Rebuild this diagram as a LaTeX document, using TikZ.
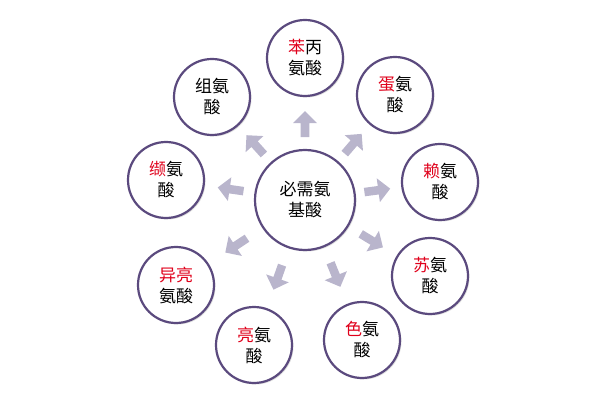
\documentclass[tikz,border=0pt]{standalone}
\usepackage{fontspec}
\newfontfamily\cjk{Noto Sans CJK SC}
\usetikzlibrary{shapes.arrows,shadows,calc}
\definecolor{ring}{HTML}{5B4A7E}
\definecolor{arr}{HTML}{B9B5CC}
\definecolor{rd}{HTML}{E0001B}
\tikzset{
  outer/.style={circle,draw=ring,line width=2.2pt,fill=white,minimum size=76pt,inner sep=0pt,align=center,font=\cjk\fontsize{17}{21}\selectfont,drop shadow={opacity=0.25,shadow xshift=1.5pt,shadow yshift=-1.5pt}},
  center/.style={outer,minimum size=100pt},
  blk/.style={single arrow,fill=arr,draw=none,minimum height=26pt,minimum width=24pt,single arrow head extend=4pt,inner sep=2pt}
}
\begin{document}
\begin{tikzpicture}[x=1pt,y=-1pt]
\useasboundingbox (0,0) rectangle (604,411);
\node[center] (c) at (305,200) {必需氨\\基酸};
\foreach \k/\px/\py/\t in {
 a/305/58/{\textcolor{rd}{苯}丙\\氨酸},
 b/395/95/{\textcolor{rd}{蛋}氨\\酸},
 d/440/182/{\textcolor{rd}{赖}氨\\酸},
 e/430/276/{\textcolor{rd}{苏}氨\\酸},
 f/362/340/{\textcolor{rd}{色}氨\\酸},
 g/254/345/{\textcolor{rd}{亮}氨\\酸},
 h/176/285/{\textcolor{rd}{异亮}\\氨酸},
 i/166/180/{\textcolor{rd}{缬}氨\\酸},
 j/212/97/{组氨\\酸}}{
  \node[outer] (\k) at (\px,\py) {\t};
  \path let \p1=($(\k)-(c)$), \n1={atan2(\y1,\x1)} in
    node[blk,rotate=\n1] (ar\k) at ($(c)!0.52!(\k)$) {};
}
\end{tikzpicture}
\end{document}
